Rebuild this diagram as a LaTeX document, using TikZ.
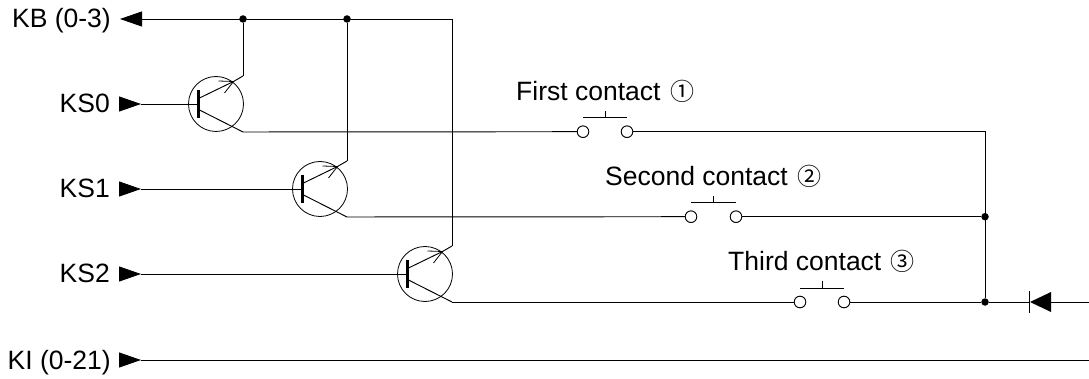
\documentclass[tikz,border=0pt]{standalone}
\usepackage{fontspec}
\setmainfont{Liberation Sans}
\newfontfamily\symfont{Noto Sans CJK JP}
\usetikzlibrary{arrows.meta}
\tikzset{
  x=1pt,y=-1pt,
  wire/.style={line width=0.95pt,line join=miter},
  thin wire/.style={line width=0.8pt},
  lbl/.style={font=\fontsize{26.5}{29}\selectfont,inner sep=0pt,text=black},
  tlabel/.style={lbl,anchor=base west},
  sig/.style={lbl,anchor=base east},
  headarrow/.style={-{Triangle[length=22pt,width=15pt]},line width=0.95pt,shorten >=0pt},
  dot/.style={circle,fill=black,inner sep=0pt,minimum size=7.5pt},
  term/.style={circle,draw=black,fill=white,line width=0.8pt,inner sep=0pt,minimum size=11.5pt},
  tcirc/.style={circle,draw=black,line width=0.8pt,inner sep=0pt,minimum size=55pt},
}
\newcommand{\cnum}[1]{{\hspace{9.5pt}\symfont\fontsize{24}{28}\selectfont #1}}
\newcommand{\qsym}[3]{% name, cx, cy
  \node[tcirc] (#1) at (#2,#3) {};
  \coordinate (#1b) at (#2-17.5,#3);
  \coordinate (#1e) at (#2+27,#3-28);
  \coordinate (#1c) at (#2+27,#3+28);
  \coordinate (#1tip) at (#2+17.5,#3-22.5);
  \draw[line width=3pt] (#2-17.5,#3-14) -- (#2-17.5,#3+14);
  \draw[wire] (#2-16.5,#3-6) -- (#1tip) -- (#1e);
  \draw[wire] (#2-16.5,#3+6) -- (#1c);
  \draw[thin wire] (#2+2.5,#3-23) -- (#1tip) -- (#2+8.5,#3-11);
}
\newcommand{\contact}[4]{% name, x left, x right, y
  \node[term] (#1l) at (#2,#4) {};
  \node[term] (#1r) at (#3,#4) {};
  \coordinate (#1p) at ({(#2+#3)/2},#4-14);
  \draw[thin wire] (#2,#4-14) -- (#3,#4-14);
  \draw[thin wire] (#1p) -- ++(0,-7);
}
\begin{document}
\begin{tikzpicture}
\useasboundingbox (0,0) rectangle (1089,379);
% transistors
\qsym{qa}{216}{104}
\qsym{qb}{320}{189}
\qsym{qc}{425}{274}
% contacts
\contact{ca}{583}{627}{131.7}
\contact{cb}{691}{736}{216.7}
\contact{cc}{800}{844}{302}
% junctions and free ends
\coordinate (kbtip) at (120,19);
\coordinate (kbend) at (452,19);
\node[dot] (ja) at (qae |- kbtip) {};
\node[dot] (jb) at (qbe |- kbtip) {};
\coordinate (corner) at (985,131.7);
\node[dot] (jc) at (985,216.7) {};
\node[dot] (jd) at (985,302) {};
\coordinate (rightd) at (1089,302);
\coordinate (kstart) at (119,360);
\coordinate (ktip) at (141,360);
\coordinate (kend) at (1089,360);
\coordinate (sa) at (119,104);
\coordinate (satip) at (141,104);
\coordinate (sb) at (119,189);
\coordinate (sbtip) at (141,189);
\coordinate (sc) at (119,274);
\coordinate (sctip) at (141,274);
\coordinate (dtip) at (1030,302);
\coordinate (dbase) at (1051,302);
% bus
\draw[wire,-{Triangle[length=22pt,width=15pt]}] (kbend) -- (kbtip);
\draw[wire] (kbend) -- (qce);
\draw[wire] (ja) -- (qae);
\draw[wire] (jb) -- (qbe);
% inputs
\draw[headarrow] (sa) -- (satip);
\draw[headarrow] (sb) -- (sbtip);
\draw[headarrow] (sc) -- (sctip);
\draw[headarrow] (kstart) -- (ktip);
\draw[wire] (satip) -- (qab);
\draw[wire] (sbtip) -- (qbb);
\draw[wire] (sctip) -- (qcb);
\draw[wire] (ktip) -- (kend);
% collector lines
\draw[wire] (qac) -- (cal);
\draw[wire] (qbc) -- (cbl);
\draw[wire] (qcc) -- (ccl);
\draw[wire] (car) -- (corner) -- (jd);
\draw[wire] (cbr) -- (jc);
\draw[wire] (ccr) -- (jd);
\draw[wire] (jd) -- (dtip);
\draw[wire] (dbase) -- (rightd);
% diode
\draw[thin wire] (1029,291) -- (1029,313);
\fill[black] (dtip) -- (1051,292) -- (1051,312) -- cycle;
% redraw terminals above wires
\node[term] at (cal) {};
\node[term] at (car) {};
\node[term] at (cbl) {};
\node[term] at (cbr) {};
\node[term] at (ccl) {};
\node[term] at (ccr) {};
% labels
\node[sig] (lkb) at (111,28) {KB (0-3)};
\node[sig] (lsa) at (110,113) {KS0};
\node[sig] (lsb) at (110,198) {KS1};
\node[sig] (lsc) at (110,283) {KS2};
\node[sig] (lki) at (111,369) {KI (0-21)};
\node[tlabel] (la) at (516,101) {First contact\cnum{①}};
\node[tlabel] (lb) at (605,186) {Second contact\cnum{②}};
\node[tlabel] (lc) at (728,271) {Third contact\cnum{③}};
\end{tikzpicture}
\end{document}
